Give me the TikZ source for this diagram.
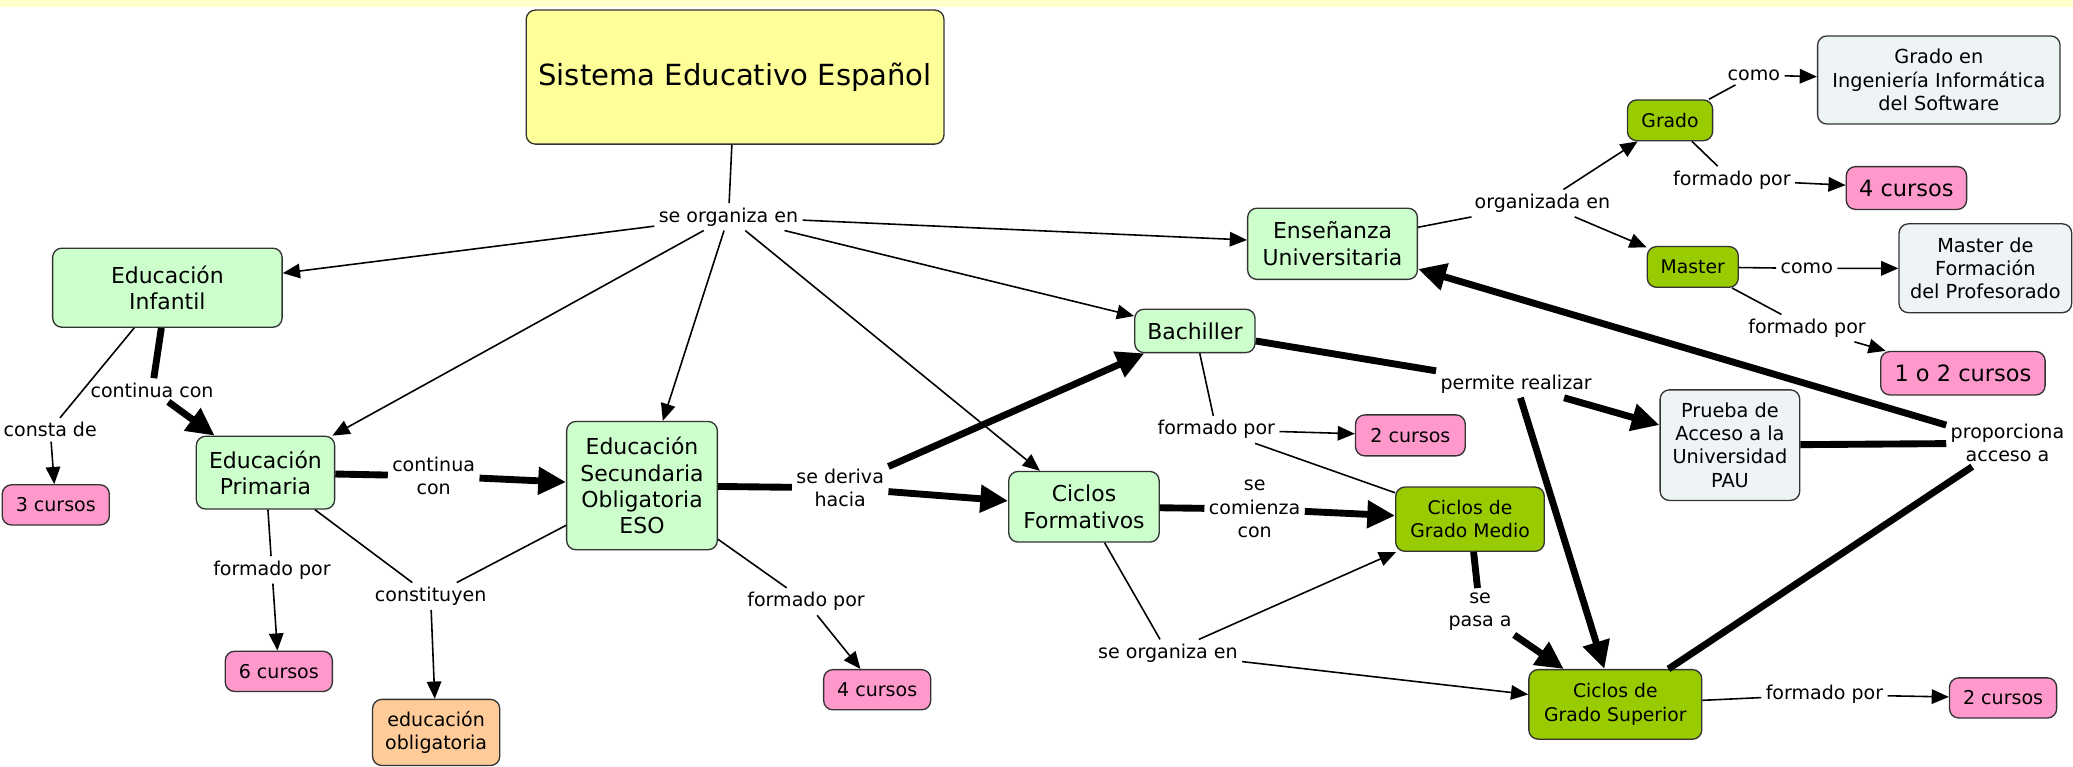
\documentclass[tikz,border=0pt]{standalone}
\usepackage{fontspec}
\setmainfont{DejaVu Sans}
\usetikzlibrary{arrows.meta,positioning}

\definecolor{lgreen}{HTML}{CCFFCC}
\definecolor{dgreen}{HTML}{99CC00}
\definecolor{pinkc}{HTML}{FF99CC}
\definecolor{orangec}{HTML}{FFCC99}
\definecolor{greyc}{HTML}{EEF3F6}
\definecolor{titley}{HTML}{FFFF99}
\definecolor{bandy}{HTML}{FFFFCC}

\begin{document}
\begin{tikzpicture}[x=0.5pt,y=-0.5pt,>={Triangle[length=6.5pt,width=5.5pt]},
    concept/.style={draw=black!80,line width=0.5pt,rounded corners=3.5pt,align=center,inner sep=1pt},
    light node/.style={concept,fill=lgreen,font=\fontsize{8.3}{10}\selectfont},
    dark node/.style={concept,fill=dgreen,font=\fontsize{7.1}{8.8}\selectfont},
    grey node/.style={concept,fill=greyc,font=\fontsize{7.3}{8.8}\selectfont},
    pink node/.style={concept,fill=pinkc,font=\fontsize{7.2}{8.8}\selectfont,minimum width=40.5pt,minimum height=15.2pt},
    big pink node/.style={pink node,font=\fontsize{8.5}{10}\selectfont},
    link/.style={font=\fontsize{7.2}{8.8}\selectfont,align=center,inner sep=1.5pt},
    thin line/.style={line width=0.6pt},
    thick line/.style={line width=2.6pt,>={Triangle[length=10.5pt,width=10pt]}}]

  \useasboundingbox (0,0) rectangle (1568,580);
  \fill[bandy] (0,0) rectangle (1568,5.5);

  % concepts
  \node[concept,fill=titley,font=\fontsize{11}{13}\selectfont,minimum width=158pt,minimum height=50.7pt] (title) at (556,58.3) {Sistema Educativo Español};

  \node[light node,minimum width=86.8pt,minimum height=29.9pt] (infantil) at (126.6,217.6) {Educación\\Infantil};
  \node[light node,minimum width=52.3pt,minimum height=27.5pt] (primaria) at (200.8,357.5) {Educación\\Primaria};
  \node[light node,minimum width=57pt,minimum height=48.5pt] (eso) at (485.6,367.3) {Educación\\Secundaria\\Obligatoria\\ESO};
  \node[light node,minimum width=56.9pt,minimum height=26.7pt] (ciclos) at (819.9,383.3) {Ciclos\\Formativos};
  \node[light node,minimum width=45.5pt,minimum height=16.4pt] (bachiller) at (903.8,250.3) {Bachiller};
  \node[light node,minimum width=64.2pt,minimum height=26.9pt] (universidad) at (1007.9,184.4) {Enseñanza\\Universitaria};

  \node[dark node,minimum width=32.2pt,minimum height=15.4pt] (grado) at (1263.2,91) {Grado};
  \node[dark node,minimum width=34.4pt,minimum height=15.4pt] (master) at (1280.4,201.9) {Master};
  \node[dark node,minimum width=56.2pt,minimum height=24.3pt] (medio) at (1111.9,392.7) {Ciclos de\\Grado Medio};
  \node[dark node,minimum width=65.4pt,minimum height=26.3pt] (superior) at (1221.8,532.8) {Ciclos de\\Grado Superior};

  \node[grey node,minimum width=91.7pt,minimum height=33.3pt] (informatica) at (1466.5,60.5) {Grado en\\Ingeniería Informática\\del Software};
  \node[grey node,minimum width=65.3pt,minimum height=33.6pt] (profesorado) at (1501.7,202.9) {Master de\\Formación\\del Profesorado};
  \node[grey node,minimum width=52.8pt,minimum height=41.8pt] (pau) at (1308.5,336.7) {Prueba de\\Acceso a la\\Universidad\\PAU};

  \node[big pink node,minimum width=45.5pt,minimum height=16.2pt] (cuatrogrado) at (1442,142.2) {4 cursos};
  \node[big pink node,minimum width=62.2pt,minimum height=16.4pt] (unodos) at (1484.7,282.3) {1 o 2 cursos};
  \node[pink node,minimum width=41.5pt,minimum height=15.5pt] (dosbach) at (1066.8,329.3) {2 cursos};
  \node[pink node] (dossup) at (1515.1,527.9) {2 cursos};
  \node[pink node] (tres) at (42.2,381.9) {3 cursos};
  \node[pink node] (seis) at (210.9,507.8) {6 cursos};
  \node[pink node] (cuatroeso) at (663.5,521.7) {4 cursos};
  \node[concept,fill=orangec,font=\fontsize{7.2}{8.8}\selectfont,minimum width=48.1pt,minimum height=25pt] (obligatoria) at (329.9,554) {educación\\obligatoria};

  % linking phrases
  \node[link] (organiza) at (551,164) {se organiza en};
  \node[link] (continua) at (115,295) {continua con};
  \node[link] (consta) at (38,325) {consta de};
  \node[link] (continuaeso) at (328,360) {continua\\con};
  \node[link] (formprim) at (205.7,431) {formado por};
  \node[link] (constituyen) at (325.7,451) {constituyen};
  \node[link] (deriva) at (635.5,369) {se deriva\\hacia};
  \node[link] (formeso) at (609.7,455) {formado por};
  \node[link] (comienza) at (949,385) {se\\comienza\\con};
  \node[link] (formbach) at (920,325) {formado por};
  \node[link] (organizaciclos) at (883.4,494) {se organiza en};
  \node[link] (permite) at (1146.8,290.5) {permite realizar};
  \node[link] (proporciona) at (1518.4,335.2) {proporciona\\acceso a};
  \node[link] (pasa) at (1119.5,462.5) {se\\pasa a};
  \node[link] (formsup) at (1380,525.4) {formado por};
  \node[link] (organizada) at (1166.6,153.7) {organizada en};
  \node[link] (comogrado) at (1326.6,56.7) {como};
  \node[link] (formgrado) at (1310,136) {formado por};
  \node[link] (comomaster) at (1366.6,203) {como};
  \node[link] (formmaster) at (1366.8,248.2) {formado por};

  % thin connections
  \path[thin line]
    (title) edge (organiza)
    (infantil) edge (consta)
    (primaria) edge (formprim)
    (primaria) edge (constituyen)
    (eso) edge (constituyen)
    (eso) edge (formeso)
    (bachiller) edge (formbach)
    (medio) edge (formbach)
    (ciclos) edge (organizaciclos)
    (universidad) edge (organizada)
    (grado) edge (comogrado)
    (grado) edge (formgrado)
    (master) edge (comomaster)
    (master) edge (formmaster)
    (superior) edge (formsup);

  \path[thin line,->]
    (organiza) edge (infantil)
               edge (primaria)
               edge (eso)
               edge (ciclos)
               edge (bachiller)
               edge (universidad)
    (consta) edge (tres)
    (formprim) edge (seis)
    (constituyen) edge (obligatoria)
    (formeso) edge (cuatroeso)
    (formbach) edge (dosbach)
    (organizaciclos) edge (medio)
                     edge (superior)
    (organizada) edge (grado)
                 edge (master)
    (comogrado) edge (informatica)
    (formgrado) edge (cuatrogrado)
    (comomaster) edge (profesorado)
    (formmaster) edge (unodos)
    (formsup) edge (dossup);

  % thick connections
  \path[thick line]
    (infantil) edge (continua)
    (primaria) edge (continuaeso)
    (eso) edge (deriva)
    (ciclos) edge (comienza)
    (medio) edge (pasa)
    (bachiller) edge (permite)
    (pau) edge (proporciona)
    (superior) edge (proporciona);

  \path[thick line,->]
    (continua) edge (primaria)
    (continuaeso) edge (eso)
    (deriva) edge (ciclos)
             edge (bachiller)
    (comienza) edge (medio)
    (pasa) edge (superior)
    (permite) edge (pau)
              edge (superior)
    (proporciona) edge (universidad);
\end{tikzpicture}
\end{document}
